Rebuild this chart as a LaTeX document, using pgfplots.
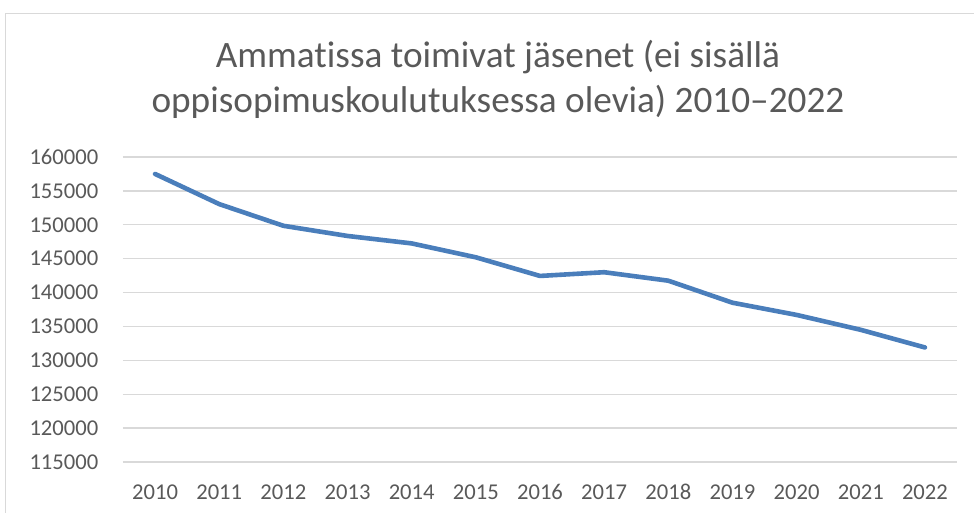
\documentclass[border=0pt]{standalone}
\usepackage{fontspec}
\setmainfont{Carlito}[Ligatures=CommonOff]
\usepackage{pgfplots}
\pgfplotsset{compat=1.18}
\definecolor{txt}{HTML}{595959}
\definecolor{gridc}{HTML}{D9D9D9}
\definecolor{linec}{HTML}{4A7EBB}
\begin{document}
\begin{tikzpicture}
\path[use as bounding box] (0,0) rectangle (974bp,513bp);
\draw[gridc, line width=1.2bp] (5.5bp,0) -- (5.5bp,499.5bp) -- (974bp,499.5bp);
\node[anchor=base, text=txt, font=\fontsize{37.4}{45}\selectfont, inner sep=0pt] at (498bp,445bp) {Ammatissa toimivat jäsenet (ei sisällä};
\node[anchor=base, text=txt, font=\fontsize{37.4}{45}\selectfont, inner sep=0pt] at (498bp,400bp) {oppisopimuskoulutuksessa olevia) 2010–2022};
\begin{axis}[
  at={(123bp,51bp)}, anchor=south west,
  scale only axis, width=834bp, height=305bp,
  xmin=2009.5, xmax=2022.5, ymin=115000, ymax=160000,
  xtick={2010,2011,2012,2013,2014,2015,2016,2017,2018,2019,2020,2021,2022},
  xticklabels={2010,2011,2012,2013,2014,2015,2016,2017,2018,2019,2020,2021,2022},
  ytick={115000,120000,125000,130000,135000,140000,145000,150000,155000,160000},
  yticklabels={115000,120000,125000,130000,135000,140000,145000,150000,155000,160000},
  scaled y ticks=false,
  scaled x ticks=false,
  axis line style={draw=none},
  major tick length=0pt,
  tick style={draw=none},
  ymajorgrids,
  grid style={gridc, line width=1.3bp},
  yticklabel style={inner sep=0pt, anchor=east, xshift=-24.5bp, text=txt, font=\fontsize{22.7}{23}\selectfont},
  xticklabel style={inner sep=0pt, anchor=base, yshift=-38bp, text=txt, font=\fontsize{22.7}{23}\selectfont},
  clip=false,
]
\addplot[linec, line width=4.6bp, line join=round, line cap=round] coordinates {
(2010,157500) (2011,153050) (2012,149850) (2013,148350) (2014,147250) (2015,145200)
(2016,142450) (2017,143000) (2018,141750) (2019,138500) (2020,136700) (2021,134500) (2022,131900)
};
\end{axis}
\end{tikzpicture}
\end{document}
